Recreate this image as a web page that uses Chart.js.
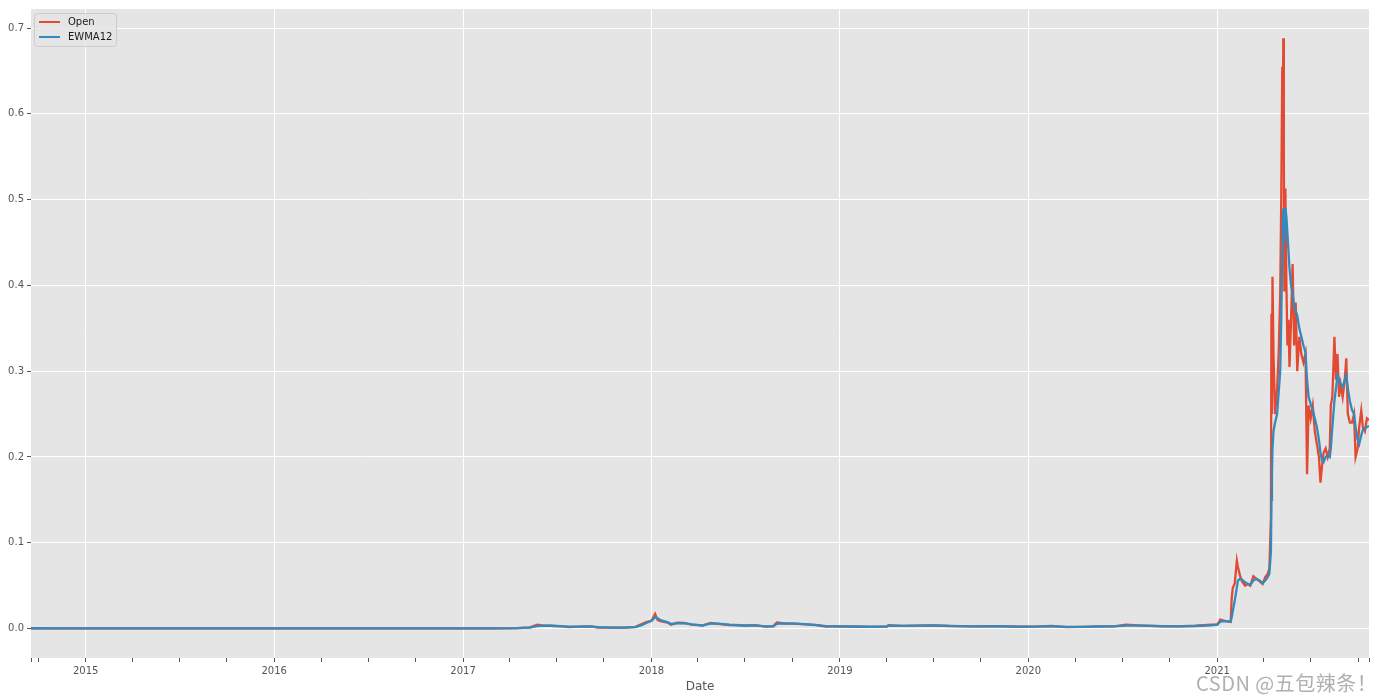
<!DOCTYPE html>
<html>
<head>
<meta charset="utf-8">
<title>Open vs EWMA12</title>
<script src="https://cdn.jsdelivr.net/npm/chart.js@4.4.1/dist/chart.umd.min.js"></script>
<style>
    body { margin: 0; background: #ffffff; }
    .wrap { position: relative; width: 1376px; height: 700px; }
    .watermark {
        position: absolute; left: 1196px; top: 668px;
        font-family: 'Noto Sans CJK SC', 'Noto Sans', sans-serif;
        font-size: 20px; color: #b0b0b0; letter-spacing: 0.5px;
        white-space: nowrap;
    }
</style>
</head>
<body>
<div class="wrap">
    <canvas id="priceChart"></canvas>
    <div class="watermark">CSDN @五包辣条！</div>
</div>
<script>
// Data
const dates = [
    '2014-09-17', '2014-11-01', '2015-01-01', '2015-04-01', '2015-07-01', '2015-10-01',
    '2016-01-01', '2016-02-15', '2016-04-01', '2016-07-01', '2016-10-01', '2017-01-01',
    '2017-03-01', '2017-04-15', '2017-05-10', '2017-05-25', '2017-06-05', '2017-06-20',
    '2017-07-10', '2017-07-25', '2017-08-15', '2017-09-05', '2017-09-20', '2017-10-15',
    '2017-11-10', '2017-12-01', '2017-12-12', '2017-12-22', '2018-01-01', '2018-01-08',
    '2018-01-13', '2018-01-20', '2018-02-01', '2018-02-08', '2018-02-20', '2018-03-05',
    '2018-03-20', '2018-04-10', '2018-04-25', '2018-05-10', '2018-06-01', '2018-07-01',
    '2018-07-20', '2018-08-10', '2018-08-25', '2018-09-01', '2018-09-15', '2018-10-05',
    '2018-10-25', '2018-11-15', '2018-12-05', '2018-12-20', '2019-01-20', '2019-03-01',
    '2019-04-02', '2019-04-05', '2019-05-01', '2019-06-01', '2019-07-01', '2019-08-01',
    '2019-09-15', '2019-11-01', '2019-12-15', '2020-01-15', '2020-02-15', '2020-03-15',
    '2020-04-15', '2020-05-15', '2020-06-15', '2020-07-08', '2020-08-10', '2020-09-15',
    '2020-10-15', '2020-11-20', '2020-12-20', '2021-01-01', '2021-01-07', '2021-01-15',
    '2021-01-27', '2021-01-29', '2021-01-31', '2021-02-04', '2021-02-08', '2021-02-10',
    '2021-02-14', '2021-02-18', '2021-02-24', '2021-03-01', '2021-03-06', '2021-03-12',
    '2021-03-18', '2021-03-24', '2021-03-30', '2021-04-04', '2021-04-08', '2021-04-12',
    '2021-04-15', '2021-04-16', '2021-04-17', '2021-04-18', '2021-04-20', '2021-04-23',
    '2021-04-27', '2021-04-30', '2021-05-03', '2021-05-05', '2021-05-07', '2021-05-08',
    '2021-05-09', '2021-05-10', '2021-05-11', '2021-05-13', '2021-05-15', '2021-05-17',
    '2021-05-19', '2021-05-21', '2021-05-24', '2021-05-27', '2021-05-30', '2021-06-02',
    '2021-06-05', '2021-06-09', '2021-06-13', '2021-06-17', '2021-06-21', '2021-06-24',
    '2021-06-27', '2021-07-01', '2021-07-05', '2021-07-09', '2021-07-13', '2021-07-17',
    '2021-07-20', '2021-07-23', '2021-07-26', '2021-07-30', '2021-08-03', '2021-08-07',
    '2021-08-09', '2021-08-12', '2021-08-16', '2021-08-19', '2021-08-22', '2021-08-25',
    '2021-08-28', '2021-09-01', '2021-09-05', '2021-09-08', '2021-09-11', '2021-09-15',
    '2021-09-19', '2021-09-23', '2021-09-26', '2021-09-30', '2021-10-03', '2021-10-07',
    '2021-10-10', '2021-10-14', '2021-10-18', '2021-10-22'
];

const openValues = [
    0.0004, 0.0003, 0.00018, 0.00012, 0.00015, 0.00012,
    0.00015, 0.0003, 0.00023, 0.0003, 0.00022, 0.00022,
    0.0003, 0.0006, 0.0015, 0.0045, 0.0035, 0.0033,
    0.0025, 0.0018, 0.0023, 0.0025, 0.0012, 0.0011,
    0.0012, 0.002, 0.005, 0.0075, 0.009, 0.017,
    0.01, 0.0085, 0.007, 0.0045, 0.0068, 0.0065,
    0.0045, 0.0035, 0.0065, 0.0055, 0.004, 0.0035,
    0.004, 0.0023, 0.0028, 0.007, 0.006, 0.0058,
    0.005, 0.004, 0.0024, 0.0025, 0.0024, 0.002,
    0.0025, 0.004, 0.0032, 0.0035, 0.0038, 0.003,
    0.0025, 0.0028, 0.0021, 0.0022, 0.003, 0.0017,
    0.002, 0.0025, 0.0025, 0.0045, 0.0035, 0.0027,
    0.0026, 0.0033, 0.0045, 0.0047, 0.0105, 0.009,
    0.0078, 0.035, 0.047, 0.053, 0.079, 0.072,
    0.062, 0.055, 0.05, 0.052, 0.05, 0.061,
    0.058, 0.055, 0.052, 0.06, 0.063, 0.07,
    0.13, 0.367, 0.25, 0.41, 0.32, 0.25,
    0.28, 0.32, 0.39, 0.5, 0.655, 0.58,
    0.688, 0.56, 0.393, 0.513, 0.4, 0.33,
    0.36, 0.305, 0.36, 0.425, 0.33, 0.38,
    0.30, 0.34, 0.32, 0.31, 0.32, 0.18,
    0.26, 0.245, 0.26, 0.23, 0.215, 0.2,
    0.17, 0.19, 0.205, 0.21, 0.2, 0.21,
    0.26, 0.27, 0.34, 0.29, 0.32, 0.27,
    0.285, 0.27, 0.29, 0.315, 0.25, 0.24,
    0.24, 0.25, 0.2, 0.21, 0.235, 0.254,
    0.235, 0.23, 0.245, 0.243
];

const ewmaValues = [
    0.0004, 0.0003, 0.0002, 0.00013, 0.00015, 0.00012,
    0.00015, 0.00028, 0.00024, 0.0003, 0.00022, 0.00022,
    0.0003, 0.0005, 0.0012, 0.0028, 0.0034, 0.0033,
    0.0028, 0.0022, 0.0022, 0.0024, 0.0016, 0.0012,
    0.0012, 0.0018, 0.0038, 0.0065, 0.009, 0.013,
    0.012, 0.0095, 0.0075, 0.0055, 0.006, 0.0064,
    0.005, 0.0038, 0.0058, 0.0058, 0.0045, 0.0036,
    0.0038, 0.0026, 0.0026, 0.0055, 0.006, 0.0058,
    0.0052, 0.0042, 0.0028, 0.0025, 0.0024, 0.0021,
    0.0023, 0.0033, 0.0032, 0.0034, 0.0037, 0.0032,
    0.0026, 0.0027, 0.0022, 0.0022, 0.0028, 0.0019,
    0.002, 0.0024, 0.0025, 0.0035, 0.0034, 0.0028,
    0.0026, 0.003, 0.0038, 0.0045, 0.008, 0.0088,
    0.0082, 0.013, 0.02, 0.033, 0.048, 0.056,
    0.058, 0.057, 0.054, 0.052, 0.051, 0.056,
    0.058, 0.056, 0.053, 0.056, 0.059, 0.064,
    0.09, 0.15, 0.18, 0.21, 0.23, 0.24,
    0.25, 0.275, 0.3, 0.36, 0.44, 0.47,
    0.49, 0.47, 0.45, 0.49, 0.48, 0.46,
    0.44, 0.42, 0.4, 0.39, 0.375, 0.37,
    0.365, 0.35, 0.34, 0.33, 0.322, 0.29,
    0.27, 0.262, 0.255, 0.245, 0.235, 0.22,
    0.205, 0.196, 0.194, 0.2, 0.202, 0.2,
    0.21, 0.235, 0.265, 0.28, 0.295, 0.29,
    0.285, 0.282, 0.29, 0.295, 0.28, 0.265,
    0.255, 0.25, 0.235, 0.22, 0.215, 0.225,
    0.232, 0.233, 0.235, 0.236
];

const yearTicks = ['2015', '2016', '2017', '2018', '2019', '2020', '2021'];
const yTicks = [0.0, 0.1, 0.2, 0.3, 0.4, 0.5, 0.6, 0.7];
const seriesNames = ['Open', 'EWMA12'];
const seriesColors = ['#E24A33', '#348ABD'];

// Helpers
const toTime = s => Date.parse(s);
const xMin = toTime(dates[0]);
const xMax = toTime(dates[dates.length - 1]);
const yearTimes = yearTicks.map(y => toTime(y + '-01-01'));

// quarter (minor) tick positions between the year ticks
const minorTimes = [];
for (let y = 2014; y <= 2021; y++) {
    ['04', '07', '10'].forEach(m => {
        const t = toTime(`${y}-${m}-01`);
        if (t > xMin && t < xMax) minorTimes.push(t);
    });
}

// Fill the plot background like ggplot
const plotBackground = {
    id: 'plotBackground',
    beforeDraw(chart) {
        const { ctx, chartArea: a } = chart;
        ctx.save();
        ctx.fillStyle = '#E5E5E5';
        ctx.fillRect(a.left, a.top, a.right - a.left, a.bottom - a.top);
        ctx.restore();
    }
};

// Legend box in the upper left corner of the axes
const insideLegend = {
    id: 'insideLegend',
    afterDraw(chart) {
        const { ctx, chartArea: a } = chart;
        const x = a.left + 3, y = a.top + 4, w = 82, h = 33;
        ctx.save();
        ctx.fillStyle = 'rgba(229,229,229,0.8)';
        ctx.strokeStyle = '#cccccc';
        ctx.lineWidth = 1;
        ctx.beginPath();
        ctx.roundRect(x + 0.5, y + 0.5, w, h, 3);
        ctx.fill();
        ctx.stroke();
        ctx.font = '10px "DejaVu Sans"';
        ctx.textBaseline = 'middle';
        seriesNames.forEach((name, i) => {
            const ly = y + 9 + i * 15;
            ctx.strokeStyle = seriesColors[i];
            ctx.lineWidth = 2;
            ctx.beginPath();
            ctx.moveTo(x + 5, ly);
            ctx.lineTo(x + 26, ly);
            ctx.stroke();
            ctx.fillStyle = '#1a1a1a';
            ctx.fillText(name, x + 34, ly);
        });
        ctx.restore();
    }
};

Chart.defaults.font.family = "'DejaVu Sans', sans-serif";
Chart.defaults.font.size = 10;
Chart.defaults.color = '#555555';

const ctx = document.getElementById('priceChart').getContext('2d');
new Chart(ctx, {
    type: 'line',
    data: {
        datasets: [
            {
                label: seriesNames[0],
                data: dates.map((d, i) => ({ x: toTime(d), y: openValues[i] })),
                borderColor: seriesColors[0],
                borderWidth: 2.3,
                pointRadius: 0,
                tension: 0,
                order: 2
            },
            {
                label: seriesNames[1],
                data: dates.map((d, i) => ({ x: toTime(d), y: ewmaValues[i] })),
                borderColor: seriesColors[1],
                borderWidth: 2.3,
                pointRadius: 0,
                tension: 0,
                order: 1
            }
        ]
    },
    options: {
        responsive: true,
        maintainAspectRatio: false,
        animation: false,
        layout: { padding: { top: 5, right: 7, left: 0, bottom: 0 } },
        plugins: { legend: { display: false }, tooltip: { enabled: false } },
        scales: {
            x: {
                type: 'linear',
                min: xMin,
                max: xMax,
                border: { display: false },
                afterBuildTicks: scale => {
                    const vals = [xMin, ...minorTimes, ...yearTimes, xMax].sort((a, b) => a - b);
                    scale.ticks = vals.map(v => ({ value: v }));
                },
                afterFit: scale => { scale.height = 42; },
                grid: {
                    color: c => (c.tick && yearTimes.includes(c.tick.value)) ? '#ffffff' : 'rgba(0,0,0,0)',
                    lineWidth: 1,
                    tickColor: '#555555',
                    tickLength: 4
                },
                ticks: {
                    autoSkip: false,
                    maxRotation: 0,
                    padding: 3,
                    color: '#555555',
                    callback: v => {
                        const i = yearTimes.indexOf(v);
                        return i >= 0 ? yearTicks[i] : '';
                    }
                },
                title: {
                    display: true,
                    text: 'Date',
                    color: '#555555',
                    font: { size: 12 },
                    padding: { top: 0, bottom: 6 }
                }
            },
            y: {
                min: -0.0343,
                max: 0.7222,
                border: { display: false },
                afterBuildTicks: scale => {
                    scale.ticks = yTicks.map(v => ({ value: v }));
                },
                afterFit: scale => { scale.width = 31; },
                grid: {
                    color: '#ffffff',
                    lineWidth: 1,
                    tickColor: '#555555',
                    tickLength: 4
                },
                ticks: {
                    padding: 3,
                    color: '#555555',
                    callback: v => v.toFixed(1)
                }
            }
        }
    },
    plugins: [plotBackground, insideLegend]
});
</script>
</body>
</html>
